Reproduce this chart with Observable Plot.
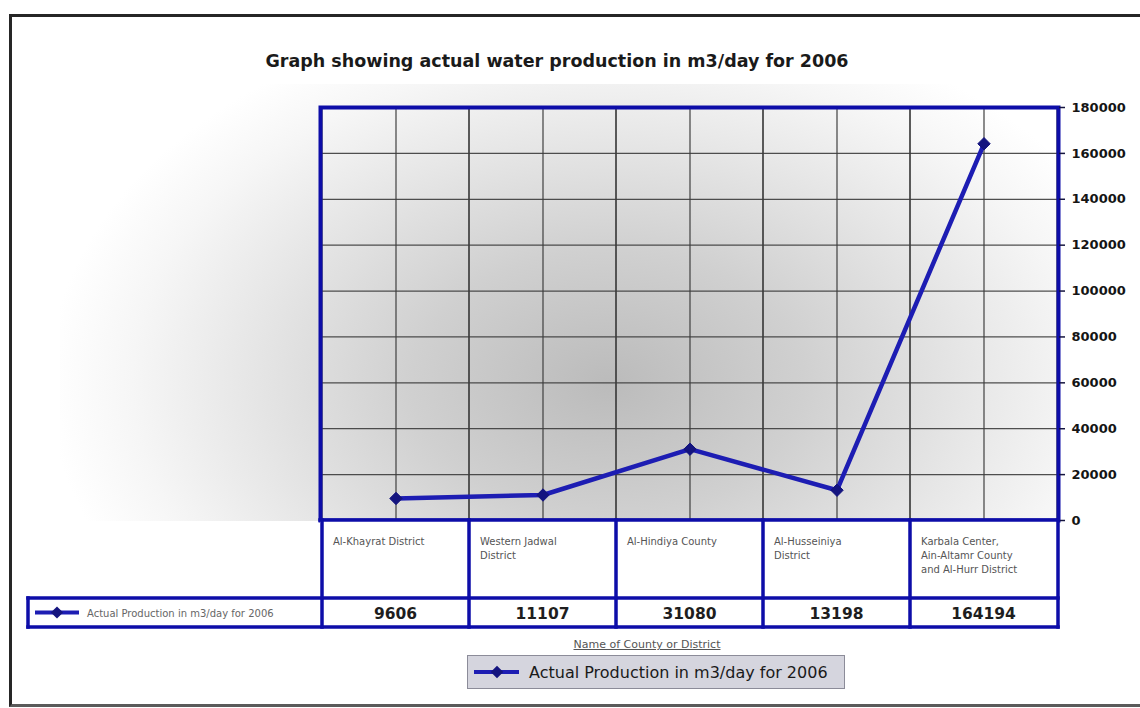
<!DOCTYPE html>
<html>
<head>
<meta charset="utf-8">
<script src="https://cdn.jsdelivr.net/npm/d3@7"></script>
<script src="https://cdn.jsdelivr.net/npm/@observablehq/plot@0.6"></script>
<style>
  html, body { margin: 0; padding: 0; }
  body { width: 1140px; height: 708px; overflow: hidden; background: #fff; position: relative; font-family: "Liberation Sans", Arial, sans-serif; }
  #frame { position: absolute; left: 9px; top: 14px; width: 1150px; height: 693px; box-sizing: border-box;
           border-left: 3px solid #262626; border-top: 3px solid #262626; border-bottom: 3px solid #5a5a5a; background: #fff; }
  #bg { position: absolute; left: 60px; top: 84px; width: 1000px; height: 437px;
        background: radial-gradient(ellipse 560px 380px at 548px 299px, #bbbbbb 0%, #d0d0d0 35%, #e7e7e7 65%, #f6f6f6 85%, #ffffff 100%); }
  #title { position: absolute; top: 51px; left: 0; width: 1114px; text-align: center; font-weight: bold; font-size: 17.5px;
           font-family: "DejaVu Sans", sans-serif; color: #1a1a1a; }
  #chart { position: absolute; left: 0; top: 90px; }
  #xtitle { position: absolute; top: 637px; left: 528px; width: 238px; height: 16px; background: #fff; text-align: center;
            font-size: 11px; font-family: "DejaVu Sans", sans-serif; color: #555; text-decoration: underline; line-height: 16px; }
  #legend { position: absolute; left: 467px; top: 655px; width: 378px; height: 34px; box-sizing: border-box;
            background: #d5d5de; border: 1.5px solid #8c8c99; display: flex; align-items: center; }
  #legend svg { margin-left: 4px; margin-right: 9px; }
  #legend span { font-size: 16px; font-family: "DejaVu Sans", sans-serif; color: #1a1a1a; }
</style>
</head>
<body>
<div id="frame"></div>
<div id="bg"></div>
<div id="title"></div>
<div id="chart"></div>
<div id="xtitle"></div>
<div id="legend"></div>
<script>
// ---- data ----
const chartTitle = "Graph showing actual water production in m3/day for 2006";
const seriesName = "Actual Production in m3/day for 2006";
const xAxisTitle = "Name of County or District";
const categories = [
  "Al-Khayrat District",
  "Western Jadwal District",
  "Al-Hindiya County",
  "Al-Husseiniya District",
  "Karbala Center, Ain-Altamr County and Al-Hurr District"
];
const categoryLines = [
  ["Al-Khayrat District"],
  ["Western Jadwal", "District"],
  ["Al-Hindiya County"],
  ["Al-Husseiniya", "District"],
  ["Karbala Center,", "Ain-Altamr County", "and Al-Hurr District"]
];
const production = [9606, 11107, 31080, 13198, 164194];
const yTicks = [0, 20000, 40000, 60000, 80000, 100000, 120000, 140000, 160000, 180000];

const rows = categories.map((c, i) => ({category: c, value: production[i], lines: categoryLines[i]}));

const lineColor = "#1d1db3";
const dotColor = "#14147f";
const frameColor = "#0d0da8";
const gridColor = "#3c3c3c";

document.getElementById("title").textContent = chartTitle;
document.getElementById("xtitle").textContent = xAxisTitle;

const plot = Plot.plot({
  width: 1140,
  height: 540,
  marginLeft: 320,
  marginRight: 82,
  marginTop: 17,
  marginBottom: 110,
  style: {background: "transparent", overflow: "visible"},
  x: {type: "band", domain: categories, padding: 0, axis: null},
  y: {domain: [0, yTicks[yTicks.length - 1]]},
  marks: [
    Plot.gridY(yTicks, {stroke: gridColor, strokeOpacity: 0.9, strokeWidth: 1.3}),
    Plot.barY(rows, {x: "category", y1: 0, y2: yTicks[yTicks.length - 1], fill: "none", stroke: gridColor, strokeOpacity: 0.9, strokeWidth: 1.3}),
    Plot.ruleX(rows, {x: "category", y1: 0, y2: yTicks[yTicks.length - 1], stroke: gridColor, strokeOpacity: 0.9, strokeWidth: 1.3}),
    Plot.line(rows, {x: "category", y: "value", stroke: lineColor, strokeWidth: 4.5}),
    Plot.dot(rows, {x: "category", y: "value", symbol: "diamond2", r: 5.6, fill: dotColor, stroke: dotColor, strokeWidth: 1}),
    Plot.frame({stroke: frameColor, strokeWidth: 4}),
    Plot.axisY(yTicks, {
      anchor: "right", label: null, tickSize: 6, tickPadding: 7,
      tickFormat: d3.format("d"), fontSize: 13, fontWeight: "bold",
      fontFamily: "DejaVu Sans, sans-serif", fill: "#151515", stroke: "#151540", strokeWidth: 1.5
    })
  ]
});
document.getElementById("chart").appendChild(plot);

// ---- data table under the plot, positioned by Plot's own scales ----
const xs = plot.scale("x");
const ys = plot.scale("y");
const bw = xs.bandwidth;
const xLeft = xs.range[0], xRight = xs.range[1];
const r0 = ys.apply(0), r1 = r0 + 78, r2 = r0 + 107;
const keyLeft = 28;

const svg = d3.select(plot);
const g = svg.append("g")
  .attr("font-family", "DejaVu Sans, sans-serif")
  .attr("text-anchor", "start");

g.append("rect").attr("x", xLeft).attr("y", r0).attr("width", xRight - xLeft).attr("height", r2 - r0).attr("fill", "#fff");
g.append("rect").attr("x", keyLeft).attr("y", r1).attr("width", xLeft - keyLeft).attr("height", r2 - r1).attr("fill", "#fff");

rows.forEach(d => {
  const x0 = xs.apply(d.category);
  const t = g.append("text").attr("fill", "#555").attr("font-size", 10).attr("text-anchor", "start");
  d.lines.forEach((ln, k) => {
    t.append("tspan").attr("x", x0 + 11).attr("y", r0 + 25 + k * 14).text(ln);
  });
  g.append("text")
    .attr("x", x0 + bw / 2).attr("y", (r1 + r2) / 2 + 6)
    .attr("text-anchor", "middle")
    .attr("font-weight", "bold").attr("font-size", 15.5).attr("fill", "#1e1e1e")
    .text(d3.format("d")(d.value));
});

// borders
const lines = [];
lines.push([keyLeft, r1, xRight, r1]);
lines.push([keyLeft, r2, xRight, r2]);
lines.push([xLeft, r0, xRight, r0]);
lines.push([keyLeft, r1, keyLeft, r2]);
rows.forEach(d => { const x0 = xs.apply(d.category); lines.push([x0, r0, x0, r2]); });
lines.push([xRight, r0, xRight, r2]);
lines.forEach(([a, b, c, e]) => g.append("line").attr("x1", a).attr("y1", b).attr("x2", c).attr("y2", e)
  .attr("stroke", frameColor).attr("stroke-width", 3.5).attr("stroke-linecap", "square"));

// series key in table
const keyY = (r1 + r2) / 2;
g.append("line").attr("x1", keyLeft + 7).attr("x2", keyLeft + 51).attr("y1", keyY).attr("y2", keyY).attr("stroke", lineColor).attr("stroke-width", 4);
g.append("path").attr("transform", `translate(${keyLeft + 29},${keyY})`).attr("d", d3.symbol(d3.symbolDiamond2, 95)()).attr("fill", dotColor);
g.append("text").attr("x", keyLeft + 59).attr("y", keyY + 4).attr("font-size", 10).attr("fill", "#666").attr("text-anchor", "start").text(seriesName);

// legend box
const leg = d3.select("#legend");
const ls = leg.append("svg").attr("width", 48).attr("height", 20);
ls.append("line").attr("x1", 2).attr("x2", 47).attr("y1", 10).attr("y2", 10).attr("stroke", lineColor).attr("stroke-width", 4);
ls.append("path").attr("transform", "translate(25,10)").attr("d", d3.symbol(d3.symbolDiamond2, 100)()).attr("fill", dotColor);
leg.append("span").text(seriesName);
</script>
</body>
</html>
